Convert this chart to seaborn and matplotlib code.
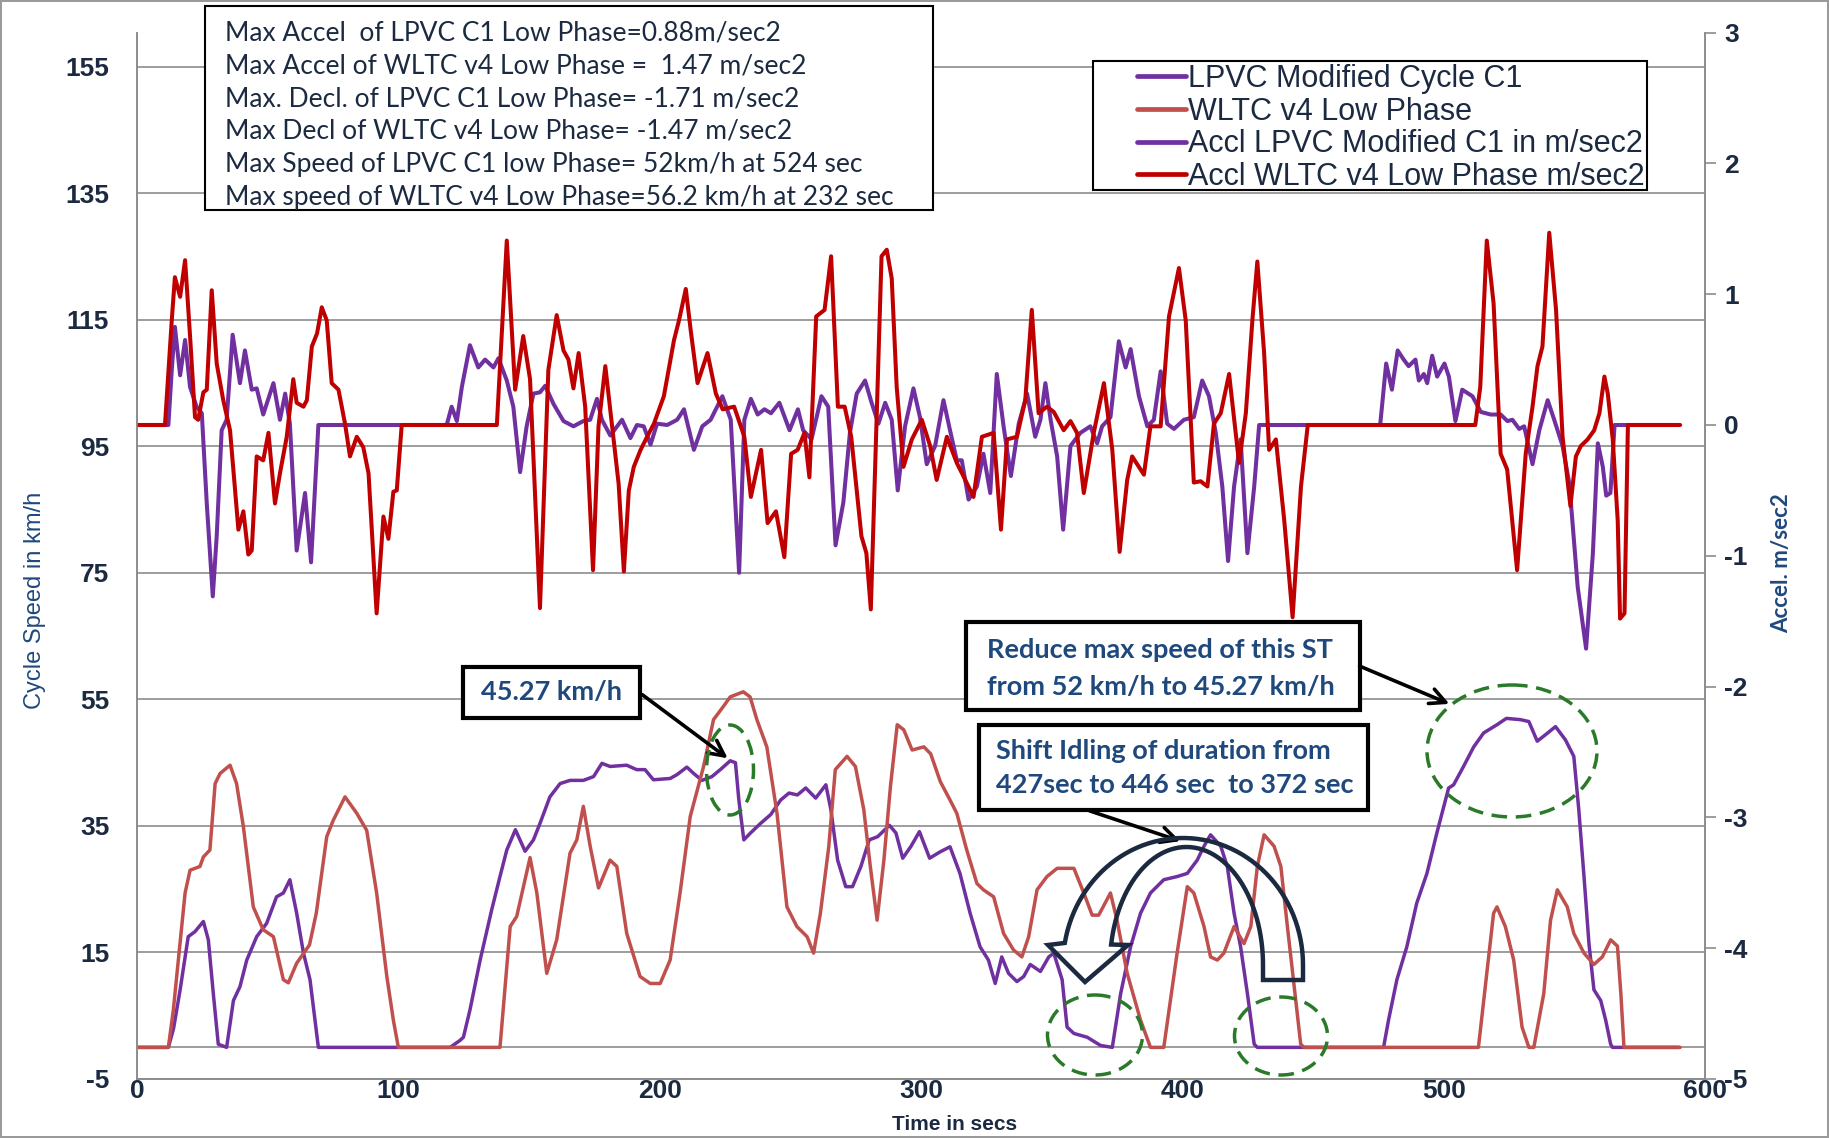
"""
LPVC modified cycle C1 vs WLTC v4 low phase: speed and acceleration traces.
"""

import numpy as np
import pandas as pd
import seaborn as sns
import matplotlib.pyplot as plt
from matplotlib.patches import Ellipse, Rectangle, Polygon, FancyArrowPatch
from matplotlib.lines import Line2D
from matplotlib.transforms import Affine2D

# ---- data (time in s) ----
lpvc_t = [0, 12, 14, 16.5, 19.6, 22.2, 25.4, 27.3, 29.2, 31.1, 34.3, 36.9, 39.4, 42, 45.8, 49.6,
          53.4, 56, 58.5, 61.1, 63.7, 66.2, 69.4, 119.8, 123.6, 124.9, 127.4, 131.3, 135.7, 138.9,
          141.5, 144.8, 148.5, 151.7, 154.2, 158, 161.9, 165.7, 170.8, 174.7, 177.9, 181, 187.4,
          191.2, 194.4, 197.6, 204, 206.6, 210.4, 213, 216.2, 220, 223.2, 227, 229, 230.3, 232.2,
          234.8, 238.6, 242.5, 246.3, 249.5, 252.7, 255.9, 259.7, 263.6, 265.5, 268.1, 271.2,
          273.8, 277, 280.2, 283.4, 287.9, 290.4, 293, 296.2, 299.4, 303.3, 307.3, 311.1, 314.9,
          318.8, 322.6, 325.8, 328.4, 330.9, 333.5, 336.7, 339.3, 341.8, 345.7, 348.9, 350.8, 354,
          355.9, 358.5, 363.6, 368.7, 373.2, 376.4, 380.2, 384, 387.8, 392.9, 398, 401.9, 405.7,
          408.3, 410.8, 414.7, 417.2, 419.8, 422.3, 424.9, 427.5, 428.7, 477, 478.9, 482.1, 485.9,
          489.7, 493.6, 497.4, 501.9, 503.8, 507.6, 511.5, 515.3, 520.4, 524, 529.4, 532.6, 535.8,
          538.3, 542.8, 546.6, 549.8, 551.7, 553.7, 555.6, 557.5, 560.1, 562, 563.9, 564.6, 590]
lpvc_speed = [0, 0, 3, 9.1, 17.5, 18.3, 19.9, 17.0, 8.5, 0.5, 0, 7.4, 9.6, 13.8, 17.5, 19.6,
              23.8, 24.4, 26.5, 21.2, 14.9, 10.7, 0, 0, 1.1, 1.6, 5.9, 13.8, 21.7, 27.0,
              31.2, 34.4, 31.0, 32.8, 35.4, 39.6, 41.7, 42.2, 42.2, 42.8, 44.9, 44.4, 44.6,
              43.9, 43.9, 42.3, 42.5, 43.1, 44.3, 43.3, 42.2, 42.8, 43.9, 45.3, 45.0, 39.1, 32.8,
              33.9, 35.4, 36.8, 39.1, 40.2, 39.9, 41.0, 39.4, 41.5, 37.6, 29.6, 25.4,
              25.4, 28.6, 32.8, 33.3, 35.1, 33.9, 29.9, 31.8, 34.1, 29.9, 30.9, 31.7, 27.5,
              21.2, 15.9, 13.8, 10.1, 14.3, 11.7, 10.4, 11.2, 13.1, 12.0, 14.3, 14.9, 10.7,
              3.2, 2.2, 1.6, 0.3, 0, 8.5, 15.9, 21.2, 24.4, 26.5, 27.0, 27.5, 29.6,
              31.8, 33.6, 31.8, 28.6, 21.2, 15.9, 8.5, 0.5, 0, 0, 4.3, 10.7, 15.9,
              22.8, 27.5, 33.9, 41.0, 41.5, 44.4, 47.5, 49.7, 51.0, 52.0, 51.8, 51.5, 48.4,
              49.2, 50.7, 48.6, 46.0, 37.6, 27.0, 16.4, 9.1, 7.4, 4.3, 0.5, 0, 0]

wltc_t = [0, 12, 13.9, 18.4, 20.3, 24.1, 25.4, 27.9, 29.9, 31.8, 35.6, 38.1, 40.7, 44.5, 48.3,
          52.2, 56, 57.9, 61.1, 66, 68.6, 72.6, 75.1, 79.6, 84.1, 87.9, 91.7, 95.6, 98.1, 100,
          138.9, 142.8, 145.3, 150.4, 153, 156.8, 160.6, 165.7, 168.3, 170.8, 173.4, 176.6, 181,
          183.6, 187.4, 192.5, 196.4, 200.2, 204, 207.8, 211.7, 216.8, 220.6, 224.4, 227, 232,
          234.6, 237.2, 241, 244.9, 248.7, 252.5, 256.4, 258.9, 261.5, 264.7, 267.2, 271.7, 274.9,
          278.1, 280.6, 283.2, 285.8, 288.3, 290.9, 293.4, 296.6, 301.1, 303.7, 307.4, 311.1,
          313.7, 317.5, 321.4, 323.9, 327.8, 331.6, 335.4, 338.6, 341.2, 344.4, 348.2, 352.1,
          358.5, 362.3, 365.5, 368, 372.5, 375, 378.9, 384, 387.8, 392.9, 398, 401.9, 404.4,
          408.3, 410.8, 413.4, 415.9, 419.8, 423.6, 426.2, 428.7, 431.3, 435.1, 437.7, 440.2,
          442.8, 445.3, 446.6, 513.3, 516.5, 519.1, 520.4, 523.6, 526.8, 530, 532.6, 534.5, 538.3,
          540.9, 543.5, 547.3, 549.8, 553.7, 557.5, 560.7, 563.9, 566.5, 567.8, 569, 590.5]
wltc_speed = [0, 0, 5.9, 24.4, 28.0, 28.6, 30.1, 31.2, 41.7, 43.3, 44.6, 41.7, 34.9, 22.2, 18.6,
              17.5, 10.7, 10.2, 13.3, 16.2, 21.2, 33.3, 35.9, 39.6, 37.0, 34.3, 24.4, 11.2, 4.3, 0,
              0, 19.1, 20.7, 30.0, 24.4, 11.7, 17.0, 30.7, 32.8, 38.1, 31.8, 25.2, 29.6,
              28.6, 18.0, 11.2, 10.1, 10.1, 13.8, 24.4, 36.5, 44.4, 51.8, 53.9, 55.4, 56.2,
              55.4, 51.8, 47.5, 37.0, 22.2, 19.1, 17.5, 14.9, 21.2, 31.7, 43.9, 46.0, 44.4,
              37.6, 28.6, 20.1, 29.6, 41.2, 51.0, 50.2, 47.0, 47.5, 46.4, 42.0, 39.1,
              37.0, 31.2, 25.9, 24.9, 23.8, 18.0, 15.4, 14.3, 17.5, 24.9, 27.0, 28.3,
              28.3, 24.4, 20.9, 20.9, 24.4, 20.1, 11.7, 4.3, 0, 0, 14.9, 25.4, 24.4,
              19.1, 14.3, 13.8, 14.9, 19.1, 16.4, 19.1, 28.6, 33.6, 31.8, 28.6, 19.1,
              9.6, 0.5, 0, 0, 11.7, 21.2, 22.2, 19.1, 13.8, 3.2, 0, 0, 8.5,
              20.1, 24.9, 22.2, 18.0, 14.9, 13.1, 14.3, 17.0, 16.0, 8.5, 0, 0]

lpvc_acc_t = [0, 12, 13.3, 14.5, 16.5, 18.4, 20.3, 22.8, 24.8, 26.7, 29, 30.5, 32.4, 34.3, 36.6,
              39.4, 41.3, 43.9, 45.8, 48.3, 52.2, 54.7, 56.7, 58.5, 61.1, 64.3, 66.6, 69.4, 118.5,
              120.4, 122.4, 124.3, 127.4, 130.6, 133.2, 136.4, 138.3, 141.5, 144, 146.6, 149.1,
              151.7, 154.2, 156.2, 159.4, 163.2, 167, 170.8, 173.4, 176, 177.9, 181.1, 185.6, 188.8,
              191.3, 193.9, 196.5, 199, 202.9, 206.7, 209.3, 213.1, 216.3, 219.5, 224, 227.2, 230.4,
              232.4, 234.9, 237.5, 240.1, 242.6, 245.8, 249.7, 252.9, 254.9, 258.1, 261.9, 264.5,
              267.3, 270.3, 272.8, 275.4, 278.6, 281.1, 283.7, 286.3, 288.8, 291.1, 293.9, 297.1,
              299.6, 302.2, 305.4, 308.6, 311.1, 313.7, 315.6, 318.2, 321.4, 323.9, 326.5, 329,
              331.6, 334.4, 337.4, 340.6, 343.7, 345.7, 347.6, 349.6, 352.1, 354.4, 357.2, 361,
              364.8, 367.4, 369.3, 372.5, 375.7, 378.3, 380.2, 383.4, 386.6, 389.1, 391.7, 394.2,
              396.8, 400.6, 404.4, 407.6, 410.2, 412.8, 415.3, 417.5, 419.8, 422.3, 424.9, 427.5,
              429.4, 475.7, 478, 480.2, 482.4, 484.7, 486.6, 489.2, 490.5, 492.4, 493.7, 495.6,
              497.5, 500.3, 502, 504.5, 507.1, 511, 514.2, 518, 521.8, 524.4, 526.3, 528.9, 530.8,
              534, 536.6, 539.8, 542.3, 545.5, 548.1, 551.3, 554.5, 557.1, 559, 560.9, 562.2,
              563.8, 565.4, 590]
lpvc_acc = [0, 0, 0.42, 0.75, 0.38, 0.65, 0.29, 0.14, 0.09, -0.60, -1.31, -0.85, -0.04, 0.04, 0.69,
            0.32, 0.57, 0.27, 0.28, 0.08, 0.32, 0.04, 0.24, 0.01, -0.96, -0.52, -1.05, 0, 0,
            0.14, 0.03, 0.29, 0.61, 0.44, 0.50, 0.44, 0.51, 0.34, 0.14, -0.36, -0.01,
            0.24, 0.25, 0.30, 0.16, 0.03, -0.01, 0.03, 0.04, 0.20, 0.04, -0.08, 0.04, -0.10,
            0, -0.01, -0.15, 0.01, 0, 0.04, 0.12, -0.19, -0.01, 0.04, 0.22, 0.04, -1.13,
            0.04, 0.20, 0.08, 0.12, 0.09, 0.17, -0.04, 0.12, -0.04, -0.11, 0.22, 0.14,
            -0.92, -0.59, -0.06, 0.24, 0.34, 0.17, 0.01, 0.17, 0.04, -0.50, -0.01, 0.28,
            0.06, -0.30, -0.16, 0.19, -0.04, -0.27, -0.27, -0.57, -0.47, -0.22, -0.52, 0.39,
            -0.01, -0.39, 0.01, 0.24, -0.09, 0.04, 0.32, 0.04, -0.24, -0.80, -0.16, -0.06,
            -0.01, -0.14, -0.01, 0.06, 0.64, 0.44, 0.58, 0.22, -0.01, 0.04, 0.41, 0.01,
            -0.03, 0.04, 0.06, 0.34, 0.22, -0.06, -0.47, -1.04, -0.47, -0.11, -0.98, -0.47,
            0, 0, 0.47, 0.27, 0.57, 0.50, 0.45, 0.50, 0.34, 0.39, 0.32, 0.53,
            0.37, 0.47, 0.37, 0.03, 0.27, 0.22, 0.10, 0.08, 0.08, 0.03, 0.04, -0.03, -0.01,
            -0.30, -0.04, 0.19, 0.04, -0.16, -0.45, -1.24, -1.71, -0.98, -0.14, -0.32, -0.54,
            -0.52, 0, 0]

wltc_acc_t = [0, 10.7, 13.3, 14.5, 16.5, 18.4, 20.3, 22.2, 23.4, 25.4, 26.7, 28.6, 30.5, 33, 35.6,
              38.8, 40.7, 42.6, 43.9, 45.8, 48.3, 50.3, 52.8, 54.7, 57.3, 59.8, 61.1, 63.7, 65,
              66.9, 68.9, 70.7, 72.6, 74.5, 77.1, 79.6, 81.5, 84.1, 86.6, 88.6, 91.7, 94.3, 96.2,
              98.1, 99.4, 101.3, 137.7, 141.5, 144.7, 147.8, 150.4, 154.2, 157.4, 160.6, 163.2,
              165.1, 167, 169, 171.5, 174.5, 176.6, 179.2, 181.8, 184.3, 186.3, 188.2, 190.1,
              192.7, 195.2, 197.8, 201.6, 205.5, 207.4, 210, 211.9, 214.5, 218.3, 221.5, 224.1,
              228.5, 232.4, 234.9, 238.8, 241.3, 244.5, 247.7, 250.3, 252.8, 255.4, 257.3, 259.9,
              263.1, 265.6, 268.2, 270.8, 273.3, 277.2, 279.1, 280.8, 283, 284.9, 286.9, 288.8,
              290.7, 293.3, 296.5, 300.3, 303.5, 306, 309.9, 313.7, 316.2, 320.1, 323.3, 327.8,
              330.6, 332.9, 336.7, 339.9, 342.4, 345, 348.2, 350.8, 354.6, 357.2, 359.7, 362.3,
              366.1, 370, 373.2, 376, 378.9, 380.8, 385.3, 387.8, 391.7, 394.9, 398.7, 401.3,
              404.4, 407, 409.6, 412.1, 414.7, 417.9, 421.7, 424.3, 426.8, 428.7, 431.3, 433.2,
              435.8, 439, 442.2, 445.4, 448, 512.1, 514, 516.5, 519.1, 521.8, 524.3, 528.1, 531.4,
              534, 535.9, 537.8, 540.4, 543, 545.5, 548.5, 550.6, 552.5, 555.1, 557.6, 559.6,
              561.5, 562.8, 564.7, 566.6, 567.5, 569.2, 570.5, 590.5]
wltc_acc = [0, 0, 0.80, 1.13, 0.98, 1.26, 0.68, 0.06, 0.04, 0.25, 0.27, 1.03, 0.47, 0.19, -0.04,
            -0.80, -0.66, -0.99, -0.96, -0.24, -0.27, -0.06, -0.60, -0.37, -0.09, 0.35, 0.17, 0.14, 0.19,
            0.60, 0.70, 0.90, 0.80, 0.32, 0.27, 0.01, -0.24, -0.09, -0.17, -0.37, -1.44, -0.70, -0.87,
            -0.51, -0.50, 0, 0, 1.41, 0.27, 0.68, 0.35, -1.40, 0.42, 0.84, 0.57,
            0.50, 0.28, 0.55, 0.14, -1.11, -0.01, 0.45, -0.01, -0.45, -1.12, -0.50, -0.32,
            -0.19, -0.09, 0.01, 0.22, 0.65, 0.80, 1.04, 0.72, 0.32, 0.55, 0.24, 0.12,
            0.14, -0.09, -0.55, -0.19, -0.75, -0.66, -1.01, -0.22, -0.19, -0.06, -0.40, 0.83,
            0.88, 1.29, 0.14, 0.14, -0.09, -0.85, -0.98, -1.41, 0.04, 1.29, 1.34, 1.12,
            0.29, -0.32, -0.11, 0.04, -0.16, -0.42, -0.09, -0.29, -0.39, -0.55, -0.09, -0.06,
            -0.80, -0.11, -0.09, 0.19, 0.88, 0.09, 0.14, 0.10, -0.04, 0.03, -0.06, -0.52,
            -0.06, 0.32, -0.19, -0.97, -0.42, -0.24, -0.38, -0.01, -0.01, 0.83, 1.20, 0.80,
            -0.44, -0.43, -0.47, 0.01, 0.09, 0.39, -0.29, 0.09, 0.80, 1.25, 0.55, -0.19,
            -0.11, -0.73, -1.47, -0.47, 0, 0, 0.29, 1.41, 0.93, -0.22, -0.34, -1.11, -0.22,
            0.14, 0.45, 0.60, 1.47, 0.88, -0.09, -0.62, -0.24, -0.16, -0.11, -0.04, 0.09,
            0.37, 0.24, -0.11, -0.73, -1.48, -1.44, 0, 0]

speed_ticks = list(range(-5, 156, 20))
acc_ticks = list(range(-5, 4))
time_ticks = list(range(0, 601, 100))

series_labels = ['LPVC Modified Cycle C1', 'WLTC v4 Low Phase',
                 'Accl LPVC Modified C1 in m/sec2', 'Accl WLTC v4 Low Phase m/sec2']

info_lines = ['Max Accel  of LPVC C1 Low Phase=0.88m/sec2',
              'Max Accel of WLTC v4 Low Phase =  1.47 m/sec2',
              'Max. Decl. of LPVC C1 Low Phase= -1.71 m/sec2',
              'Max Decl of WLTC v4 Low Phase= -1.47 m/sec2',
              'Max Speed of LPVC C1 low Phase= 52km/h at 524 sec',
              'Max speed of WLTC v4 Low Phase=56.2 km/h at 232 sec']

W, H = 1829, 1138
PURPLE = '#7030A0'
SALMON = '#C0504D'
DARKRED = '#C00000'
NAVY = '#1B2A40'
BLUE = '#1F497D'
GREEN = '#2A7A2A'
GRID = '#8C8C8C'


def main():
    sns.set_theme(style='white')
    plt.rcParams['font.family'] = ['Liberation Sans', 'DejaVu Sans']
    plt.rcParams['axes.unicode_minus'] = False

    fig = plt.figure(figsize=(W / 100, H / 100), dpi=100)
    fig.patch.set_edgecolor('#9A9A9A')
    fig.patch.set_linewidth(1.5)
    # pixel coords of the reference image (y down) -> figure
    px = Affine2D().scale(1 / W, -1 / H).translate(0, 1) + fig.transFigure

    ax = fig.add_axes([137 / W, 1 - 1079 / H, (1705 - 137) / W, (1079 - 32.6) / H])
    ax2 = ax.twinx()

    # speed traces (left axis)
    sns.lineplot(x=lpvc_t, y=lpvc_speed, ax=ax, color=PURPLE, linewidth=2.5, sort=False,
                 estimator=None)
    sns.lineplot(x=wltc_t, y=wltc_speed, ax=ax, color=SALMON, linewidth=2.5, sort=False,
                 estimator=None)
    # acceleration traces (right axis)
    sns.lineplot(x=lpvc_acc_t, y=lpvc_acc, ax=ax2, color=PURPLE, linewidth=2.9, sort=False,
                 estimator=None)
    sns.lineplot(x=wltc_acc_t, y=wltc_acc, ax=ax2, color=DARKRED, linewidth=2.9, sort=False,
                 estimator=None)

    ax.set_xlim(0, 600)
    ax.set_ylim(-5, 160.4)
    ax2.set_ylim(-5, 3)
    ax.set_xticks(time_ticks)
    ax.set_yticks(speed_ticks)
    ax2.set_yticks(acc_ticks)
    ax.yaxis.grid(True, color=GRID, linewidth=1.2)
    ax.xaxis.grid(False)
    ax.axhline(0, color=GRID, linewidth=1.2, zorder=0.5)
    ax.set_xlabel('')
    ax.set_ylabel('')
    ax2.set_ylabel('')

    for a in (ax, ax2):
        a.spines['top'].set_visible(False)
        for side in ('left', 'right', 'bottom'):
            a.spines[side].set_color(GRID)
            a.spines[side].set_linewidth(1.2)
    ax.tick_params(axis='y', length=0, pad=20, labelsize=19, labelcolor=NAVY)
    ax.tick_params(axis='x', length=0, pad=0, labelsize=19, labelcolor=NAVY)
    ax2.tick_params(axis='y', length=8, width=1.2, color=GRID, direction='out', pad=6,
                    labelsize=19, labelcolor=NAVY)
    for lab in ax.get_xticklabels() + ax.get_yticklabels() + ax2.get_yticklabels():
        lab.set_fontweight('bold')

    # axis titles
    fig.text(35 / W, 1 - 600 / H, 'Cycle Speed in km/h', rotation=90, ha='center', va='center',
             fontsize=17, color=BLUE)
    fig.text(1782 / W, 1 - 563 / H, 'Accel. m/sec2', rotation=90, ha='center', va='center',
             fontsize=16, color=BLUE, fontweight='bold', family=['Lato', 'DejaVu Sans'])
    fig.text(955 / W, 1 - 1124 / H, 'Time in secs', ha='center', va='center', fontsize=15,
             color=NAVY, fontweight='bold')

    # legend: frame drawn separately so the handles sit further in from the left edge
    fig.add_artist(Rectangle((1093, 61), 554, 129, transform=px, facecolor='white',
                             edgecolor='black', linewidth=1.5))
    colors = [PURPLE, SALMON, PURPLE, DARKRED]
    handles = [Line2D([], [], color=c, linewidth=3.4) for c in colors]
    leg = fig.legend(handles, series_labels, loc='upper right', bbox_to_anchor=(1645, 64),
                     bbox_transform=px, fontsize=22, frameon=False, handlelength=1.6,
                     handletextpad=0.08, labelspacing=0.085, borderpad=0, borderaxespad=0)
    leg.set_zorder(6)
    for txt in leg.get_texts():
        txt.set_color(NAVY)

    # info box top left
    fig.add_artist(Rectangle((205, 6), 728, 204, transform=px, facecolor='white',
                             edgecolor='black', linewidth=1.5))
    for i, line in enumerate(info_lines):
        fig.text(225, 33 + i * 32.8, line, transform=px, ha='left', va='center', fontsize=19,
                 color=NAVY, family=['Lato', 'DejaVu Sans'])

    # annotation boxes
    note_font = dict(fontsize=19.5, color=BLUE, fontweight='bold', family=['Lato', 'DejaVu Sans'])
    fig.add_artist(Rectangle((463, 667), 177, 51, transform=px, facecolor='white',
                             edgecolor='black', linewidth=3))
    fig.text(551.5, 692.5, '45.27 km/h', transform=px, ha='center', va='center', **note_font)
    fig.add_artist(Rectangle((966, 622), 394, 88, transform=px, facecolor='white',
                             edgecolor='black', linewidth=3))
    fig.text(987, 650, 'Reduce max speed of this ST', transform=px, ha='left', va='center',
             **note_font)
    fig.text(987, 687, 'from 52 km/h to 45.27 km/h', transform=px, ha='left', va='center',
             **note_font)
    fig.add_artist(Rectangle((979, 725), 389, 85, transform=px, facecolor='white',
                             edgecolor='black', linewidth=3))
    fig.text(996, 751, 'Shift Idling of duration from', transform=px, ha='left', va='center',
             **note_font)
    fig.text(996, 785, '427sec to 446 sec  to 372 sec', transform=px, ha='left', va='center',
             **note_font)

    # pointer arrows
    for start, end in [((640, 693), (730, 760)), ((1357, 665), (1452, 705)),
                       ((1087, 810), (1183, 842))]:
        fig.add_artist(FancyArrowPatch(start, end, transform=px, arrowstyle='->',
                                       mutation_scale=28, color='black', linewidth=2.6))

    # dashed green circles
    for centre, w, h in [((730, 770), 47, 90), ((1512, 751), 170, 132),
                         ((1095, 1035), 95, 80), ((1281, 1036), 93, 78)]:
        fig.add_artist(Ellipse(centre, w, h, transform=px, fill=False, edgecolor=GREEN,
                               linewidth=2.5, linestyle=(0, (4.5, 2.5))))

    # U-turn block arrow (outline only)
    def arc(cx, cy, a, b, th0, th1, n=60):
        th = np.radians(np.linspace(th0, th1, n))
        return list(zip(cx + a * np.cos(th), cy - b * np.sin(th)))

    verts = ([(1303, 980)] + arc(1183, 965, 120, 127, 0, 170)
             + [(1048, 945), (1085, 982), (1128, 945)]
             + arc(1186.5, 965, 76.5, 118, 170, 0) + [(1263, 980)])
    fig.add_artist(Polygon(verts, closed=True, transform=px, fill=False, edgecolor='#1B2A41',
                           linewidth=3.2, joinstyle='miter'))

    plt.savefig('out.png', dpi=100)


if __name__ == "__main__":
    main()
